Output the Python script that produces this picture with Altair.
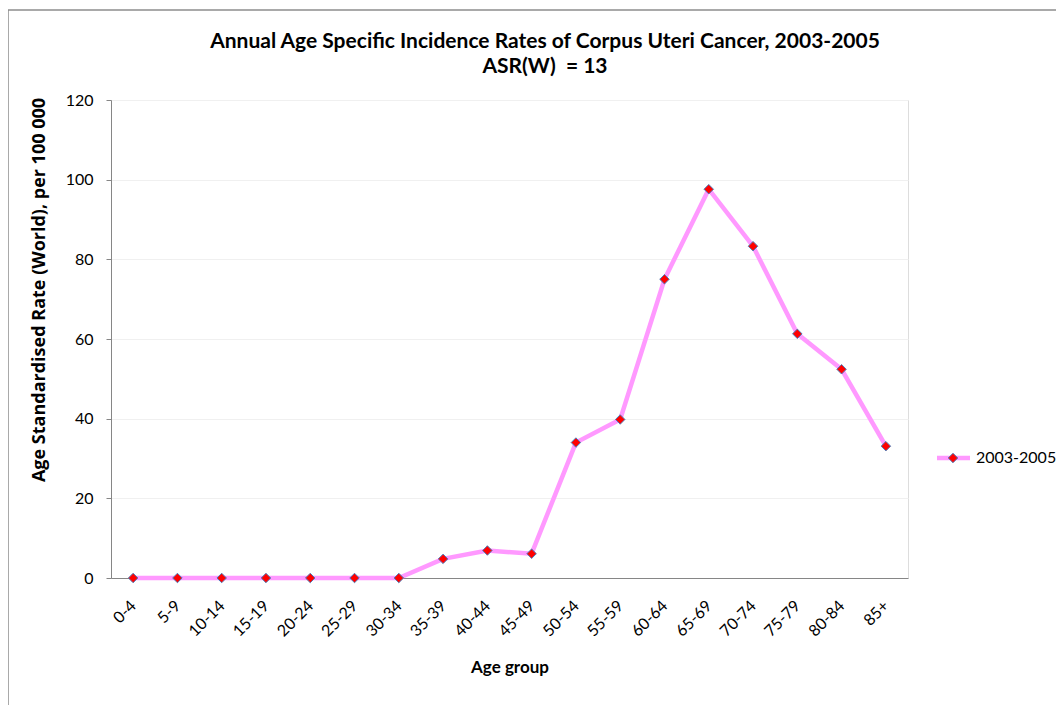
import altair as alt
import pandas as pd

age_groups = ["0-4", "5-9", "10-14", "15-19", "20-24", "25-29", "30-34", "35-39",
              "40-44", "45-49", "50-54", "55-59", "60-64", "65-69", "70-74", "75-79",
              "80-84", "85+"]
rates = [0, 0, 0, 0, 0, 0, 0, 4.8, 6.9, 6.1, 34.0, 39.8, 75.0, 97.6, 83.3, 61.3, 52.4, 33.1]
series_name = "2003-2005"
y_ticks = [0, 20, 40, 60, 80, 100, 120]
title_lines = ["Annual Age Specific Incidence Rates of Corpus Uteri Cancer, 2003-2005",
               "ASR(W)\u00a0 = 13"]
y_title = "Age Standardised Rate (World), per 100 000"
x_title = "Age group"

df = pd.DataFrame({"age": age_groups, "rate": rates, "series": series_name})

FONT = "Lato"
W, H = 797, 478

x_enc = alt.X("age:O", sort=age_groups,
              axis=alt.Axis(title=x_title, labelAngle=-45, labelAlign="right",
                            labelBaseline="middle", labelPadding=25, ticks=False,
                            domainColor="#868686", labelFontSize=16, labelColor="#000000",
                            titleFontSize=17, titleFontWeight="bold", titlePadding=20,
                            titleColor="#000000", grid=False, labelFont=FONT, titleFont=FONT))
y_enc = alt.Y("rate:Q", scale=alt.Scale(domain=[0, 120], nice=False),
              axis=alt.Axis(title=None,
                            values=y_ticks, tickSize=5, tickColor="#868686",
                            domainColor="#868686", gridColor="#F0F0F0", labelFontSize=16,
                            labelColor="#000000", labelPadding=13, labelFont=FONT))

line = alt.Chart(df).mark_line(color="#FF99FF", strokeWidth=4.5).encode(x=x_enc, y=y_enc)
pts = alt.Chart(df).mark_point(shape="diamond", filled=True, fill="#FF0000",
                               stroke="#4A7EBB", strokeWidth=1, size=90, opacity=1).encode(
    x=alt.X("age:O", sort=age_groups), y="rate:Q")

leg = pd.DataFrame({"series": [series_name]})
leg_line = alt.Chart(leg).mark_rule(color="#FF99FF", strokeWidth=4.5).encode(
    x=alt.value(826), x2=alt.value(859), y=alt.value(358))
leg_pt = alt.Chart(leg).mark_point(shape="diamond", filled=True, fill="#FF0000",
                                   stroke="#4A7EBB", strokeWidth=1, size=90, opacity=1).encode(
    x=alt.value(842), y=alt.value(358))
leg_txt = alt.Chart(leg).mark_text(align="left", baseline="middle", font=FONT, fontSize=16,
                                   color="#000000").encode(
    x=alt.value(865), y=alt.value(358), text="series:N")

ttl = pd.DataFrame({"t1": [title_lines[0]], "t2": [title_lines[1]], "yt": [y_title]})
title1 = alt.Chart(ttl).mark_text(align="center", baseline="middle", font=FONT, fontSize=21,
                                  fontWeight="bold", color="#000000").encode(
    x=alt.value(434), y=alt.value(-58), text="t1:N")
title2 = alt.Chart(ttl).mark_text(align="center", baseline="middle", font=FONT, fontSize=21,
                                  fontWeight="bold", color="#000000").encode(
    x=alt.value(434), y=alt.value(-33), text="t2:N")
ytitle = alt.Chart(ttl).mark_text(align="center", baseline="middle", font="Open Sans",
                                  fontSize=18, fontWeight="bold", angle=270,
                                  color="#000000").encode(
    x=alt.value(-71), y=alt.value(190), text="yt:N")

border_left = alt.Chart(leg).mark_rule(color="#8C8C8C", strokeWidth=1.5).encode(
    x=alt.value(-103), y=alt.value(-90), y2=alt.value(700))
border_top = alt.Chart(leg).mark_rule(color="#8C8C8C", strokeWidth=1.5).encode(
    x=alt.value(-103), x2=alt.value(960), y=alt.value(-90))

chart = alt.layer(border_left, border_top, line, pts, leg_line, leg_pt, leg_txt,
                  title1, title2, ytitle).properties(
    width=W, height=H,
    autosize=alt.AutoSizeParams(type="none"),
    padding={"left": 103, "top": 92, "right": 148, "bottom": 127},
).configure_view(stroke=None).configure(background="#FFFFFF")

chart.save("out.html", embed_options={"renderer": "svg", "actions": False})
